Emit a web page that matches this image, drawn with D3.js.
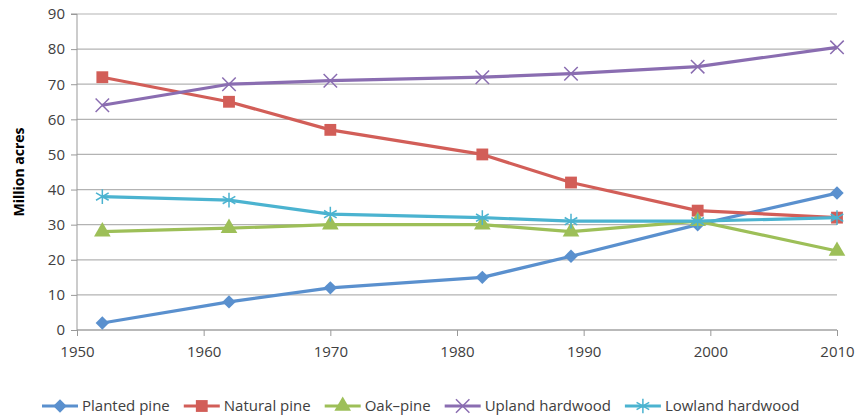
<!DOCTYPE html>
<html>
<head>
<meta charset="utf-8">
<script src="https://cdn.jsdelivr.net/npm/d3@7"></script>
<style>
  body { margin: 0; background: #fff; }
  svg text { font-family: "Open Sans", "Liberation Sans", sans-serif; fill: #404040; }
</style>
</head>
<body>
<svg id="chart" width="857" height="417"></svg>
<script>
// data
const years = [1952, 1962, 1970, 1982, 1989, 1999, 2010];
const plantedPine = [2, 8, 12, 15, 21, 30, 39];
const naturalPine = [72, 65, 57, 50, 42, 34, 32];
const oakPine = [28, 29, 30, 30, 28, 31, 22.5];
const uplandHardwood = [64, 70, 71, 72, 73, 75, 80.5];
const lowlandHardwood = [38, 37, 33, 32, 31, 31, 32];
const seriesNames = ["Planted pine", "Natural pine", "Oak\u2013pine", "Upland hardwood", "Lowland hardwood"];
const xTicks = [1950, 1960, 1970, 1980, 1990, 2000, 2010];
const yTicks = [0, 10, 20, 30, 40, 50, 60, 70, 80, 90];

const series = [
  { name: seriesNames[0], values: plantedPine, color: "#5A90CE", shape: d3.symbolSquare, size: 90, rotate: 45, stroke: false },
  { name: seriesNames[1], values: naturalPine, color: "#D25E58", shape: d3.symbolSquare, size: 140, rotate: 0, stroke: false },
  { name: seriesNames[2], values: oakPine, color: "#9DBF58", shape: d3.symbolTriangle, size: 120, rotate: 0, stroke: false },
  { name: seriesNames[3], values: uplandHardwood, color: "#8A6DB1", shape: d3.symbolX, size: 120, rotate: 0, stroke: true },
  { name: seriesNames[4], values: lowlandHardwood, color: "#4BB3D0", shape: d3.symbolAsterisk, size: 150, rotate: 0, stroke: true }
];

const svg = d3.select("#chart");
const margin = { left: 77 };

const x = d3.scaleLinear().domain([1950, 2010]).range([margin.left, margin.left + 760]);
const y = d3.scaleLinear().domain([0, 90]).range([330, 14]);

// gridlines
svg.append("g")
  .selectAll("line")
  .data(yTicks)
  .enter().append("line")
  .attr("x1", margin.left).attr("x2", x(2010))
  .attr("y1", d => y(d)).attr("y2", d => y(d))
  .attr("stroke", "#b3b3b3").attr("stroke-width", 1.2);

// y axis
const yAxis = svg.append("g")
  .attr("transform", `translate(${margin.left},0)`)
  .call(d3.axisLeft(y).tickValues(yTicks).tickSize(6).tickPadding(6));
yAxis.select(".domain").attr("stroke", "#999").attr("d", `M-6,${y(90)}H0V${y(0)}`);
yAxis.selectAll(".tick line").attr("stroke", "#999");
yAxis.selectAll("text").style("font-size", "15px");

// x axis
const xAxis = svg.append("g")
  .attr("transform", `translate(0,${y(0)})`)
  .call(d3.axisBottom(x).tickValues(xTicks).tickFormat(d3.format("d")).tickSize(6).tickPadding(10));
xAxis.select(".domain").attr("stroke", "#999").attr("d", `M${x(1950)},0H${x(2010)}`);
xAxis.selectAll(".tick line").attr("stroke", "#999");
xAxis.selectAll("text").style("font-size", "15px");

// y title
svg.append("text")
  .attr("transform", `translate(24,${(y(0) + y(90)) / 2}) rotate(-90)`)
  .attr("text-anchor", "middle")
  .style("font-size", "14px")
  .style("font-weight", "bold")
  .style("fill", "#000")
  .text("Million acres");

const line = d3.line()
  .x((d, i) => x(years[i]))
  .y(d => y(d));

function drawMarker(g, s, cx, cy) {
  const p = g.append("path")
    .attr("d", d3.symbol().type(s.shape).size(s.size)())
    .attr("transform", `translate(${cx},${cy}) rotate(${s.rotate})`);
  if (s.stroke) {
    p.attr("fill", "none").attr("stroke", s.color).attr("stroke-width", 1.5);
  } else {
    p.attr("fill", s.color);
  }
}

series.forEach(s => {
  const g = svg.append("g");
  g.append("path")
    .datum(s.values)
    .attr("fill", "none")
    .attr("stroke", s.color)
    .attr("stroke-width", 3.2)
    .attr("stroke-linejoin", "round")
    .attr("d", line);
  s.values.forEach((v, i) => drawMarker(g, s, x(years[i]), y(v)));
});

// legend
const legendY = 406;
let lx = 42;
series.forEach(s => {
  const g = svg.append("g");
  g.append("line")
    .attr("x1", lx).attr("x2", lx + 36)
    .attr("y1", legendY).attr("y2", legendY)
    .attr("stroke", s.color).attr("stroke-width", 3.2);
  drawMarker(g, s, lx + 18, legendY);
  const t = g.append("text")
    .attr("x", lx + 40)
    .attr("y", legendY + 5)
    .style("font-size", "15px")
    .text(s.name);
  lx += 40 + t.node().getComputedTextLength() + 14;
});
</script>
</body>
</html>
